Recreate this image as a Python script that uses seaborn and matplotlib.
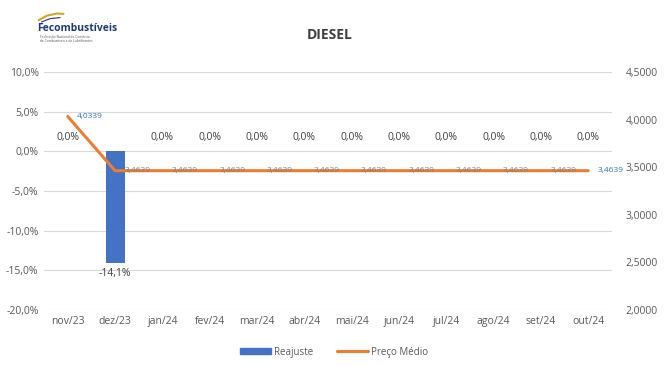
import matplotlib
matplotlib.use("agg")
import matplotlib.pyplot as plt
import seaborn as sns
import pandas as pd
from matplotlib.lines import Line2D
from matplotlib.patches import Patch

meses = ["nov/23", "dez/23", "jan/24", "fev/24", "mar/24", "abr/24",
         "mai/24", "jun/24", "jul/24", "ago/24", "set/24", "out/24"]
reajuste = [0.0, -14.1, 0.0, 0.0, 0.0, 0.0, 0.0, 0.0, 0.0, 0.0, 0.0, 0.0]
preco_medio = [4.0339, 3.4639, 3.4639, 3.4639, 3.4639, 3.4639,
               3.4639, 3.4639, 3.4639, 3.4639, 3.4639, 3.4639]

azul = "#4472C4"
laranja = "#ED7D31"
cinza = "#595959"

df = pd.DataFrame({"mes": meses, "reajuste": reajuste, "preco": preco_medio})
df["pos"] = range(len(df))

sns.set_style("white")
plt.rcParams["font.family"] = ["Open Sans", "DejaVu Sans"]

fig = plt.figure(figsize=(6.68, 3.66), dpi=100)
ax = fig.add_axes([0.066, 0.153, 0.85, 0.650])

sns.barplot(data=df, x="mes", y="reajuste", color=azul, width=0.4,
            saturation=1, linewidth=0, ax=ax, zorder=2)
ax.set_ylim(-20, 10)
ax.set_yticks(range(-20, 11, 5))
ax.set_yticklabels([f"{v:.1f}%".replace(".", ",") for v in range(-20, 11, 5)])
ax.set_xlim(-0.5, len(meses) - 0.5)
ax.grid(axis="y", color="#D9D9D9", lw=0.8, zorder=0)
ax.set_axisbelow(True)
ax.set_xlabel("")
ax.set_ylabel("")
ax.tick_params(axis="both", length=0, labelsize=7.5, labelcolor=cinza, pad=4)
for s in ax.spines.values():
    s.set_visible(False)

for i, v in enumerate(reajuste):
    txt = f"{v:.1f}%".replace(".", ",")
    if v < 0:
        ax.text(i, v - 0.6, txt, ha="center", va="top", fontsize=7.5, color="#404040")
    else:
        ax.text(i, v + 1.0, txt, ha="center", va="bottom", fontsize=7.5, color="#404040")

ax2 = ax.twinx()
sns.lineplot(data=df, x="pos", y="preco", color=laranja, lw=2.2, ax=ax2, zorder=3)
ax2.set_ylim(2.0, 4.5)
ax2.set_yticks([2.0, 2.5, 3.0, 3.5, 4.0, 4.5])
ax2.set_yticklabels([f"{v:.4f}".replace(".", ",") for v in [2.0, 2.5, 3.0, 3.5, 4.0, 4.5]])
ax2.set_xlim(-0.5, len(meses) - 0.5)
ax2.set_ylabel("")
ax2.set_xlabel("")
ax2.tick_params(axis="y", length=0, labelsize=7.5, labelcolor=cinza, pad=10)
for s in ax2.spines.values():
    s.set_visible(False)

for i, v in enumerate(preco_medio):
    txt = f"{v:.4f}".replace(".", ",")
    cor = "#2E75B6" if i in (0, len(preco_medio) - 1) else "#7F7F7F"
    ax2.text(i + 0.2, v, txt, ha="left", va="center", fontsize=6, color=cor, zorder=4)

fig.text(0.493, 0.905, "DIESEL", ha="center", va="center", fontsize=10,
         fontweight="bold", color="#404040")

# logo
fig.text(0.055, 0.922, "Fecombustíveis", ha="left", va="center", fontsize=7.5,
         fontweight="bold", color="#1F3A7A")
fig.text(0.06, 0.893, "Federação Nacional do Comércio\nde Combustíveis e de Lubrificantes",
         ha="left", va="center", fontsize=2.3, color="#555555", linespacing=1.1)
fig.add_artist(Line2D([0.058, 0.07, 0.085, 0.095], [0.945, 0.957, 0.963, 0.962],
                      color="#D9A520", lw=1.5, transform=fig.transFigure))
fig.add_artist(Line2D([0.062, 0.075, 0.09], [0.94, 0.949, 0.952],
                      color="#1F3A7A", lw=0.8, transform=fig.transFigure))

handles = [Patch(color=azul, label="Reajuste"),
           Line2D([0], [0], color=laranja, lw=2.2, label="Preço Médio")]
fig.legend(handles=handles, loc="center", bbox_to_anchor=(0.5, 0.038), ncol=2,
           frameon=False, fontsize=7, labelcolor=cinza, handlelength=3.2,
           handleheight=0.5, columnspacing=2.5, handletextpad=0.3)

fig.savefig("out.png", dpi=100)
